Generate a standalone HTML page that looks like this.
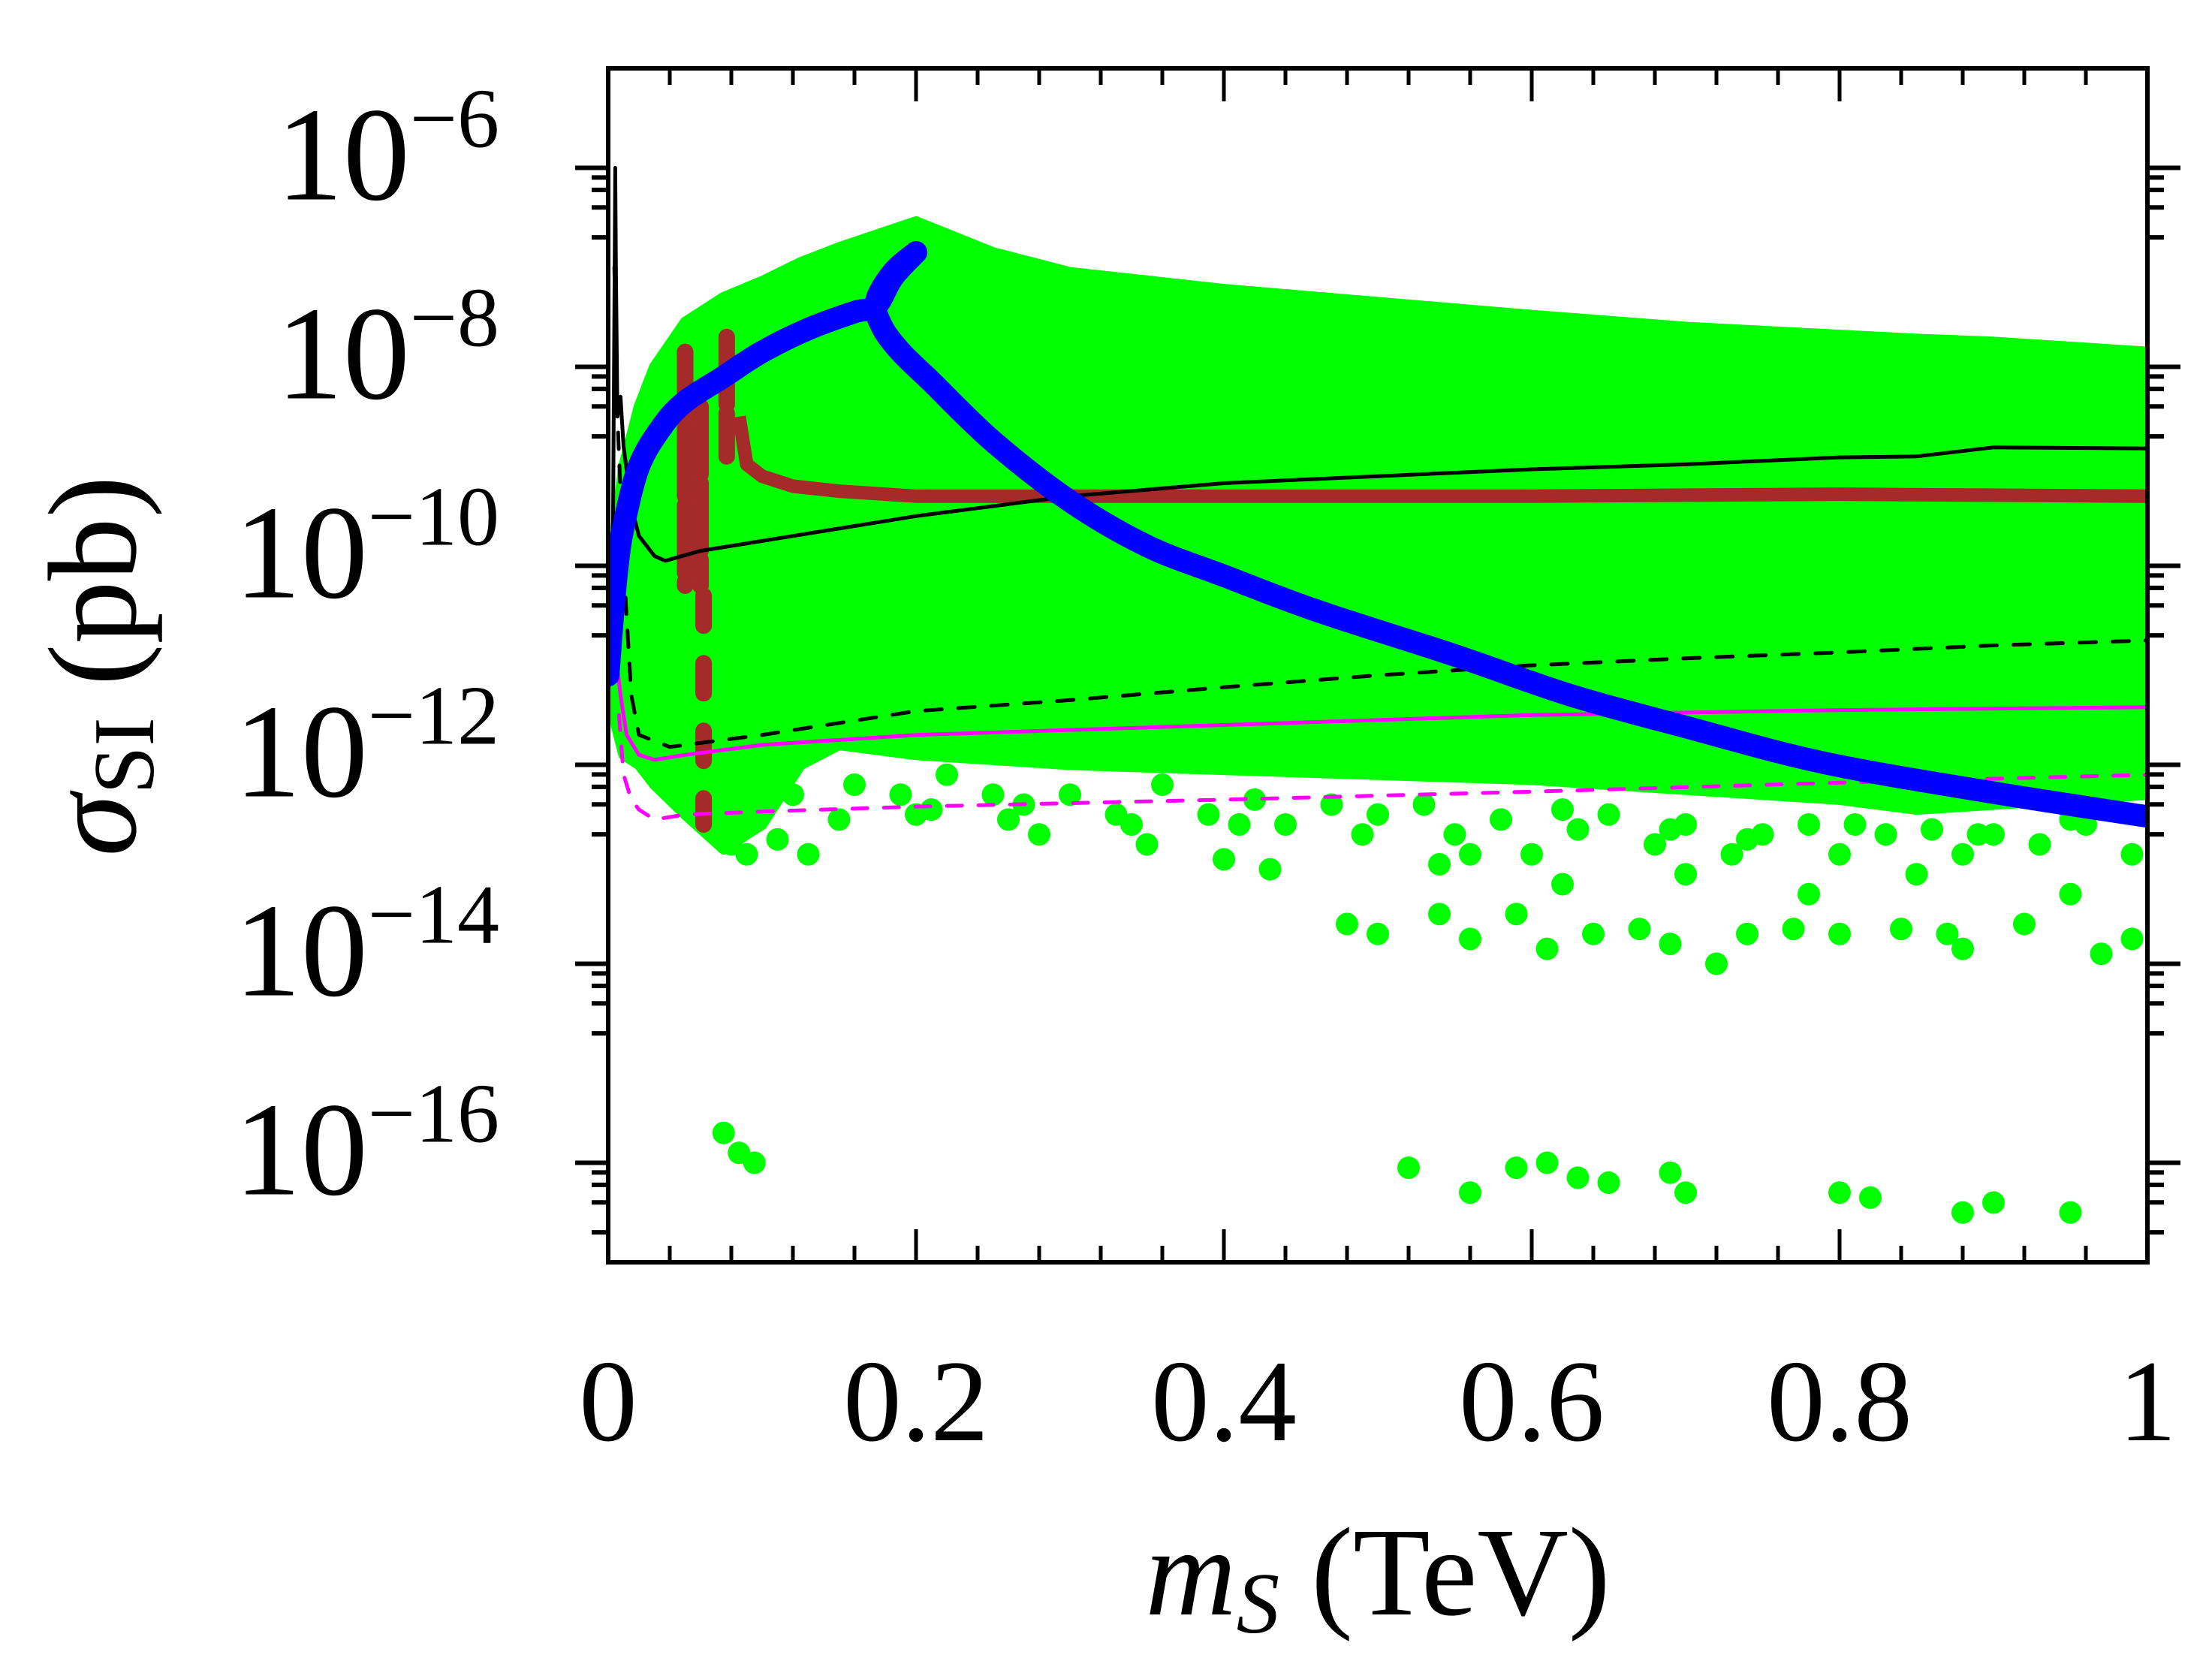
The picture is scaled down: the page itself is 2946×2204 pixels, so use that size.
<!DOCTYPE html>
<html><head><meta charset="utf-8"><style>
html,body{margin:0;padding:0;background:#fff;}
svg{display:block;}
text{font-family:"Liberation Serif",serif;fill:#000;}
</style></head><body>
<svg id="chart" width="2946" height="2204" viewBox="0 0 2946 2204" xmlns="http://www.w3.org/2000/svg">
<g id="plot"></g>
<g id="axes"></g>
<text x="1835" y="2150" font-size="168" text-anchor="middle"><tspan font-style="italic">m</tspan><tspan font-style="italic" font-size="115" dy="24">S</tspan><tspan dy="-24"> (TeV)</tspan></text>
<text transform="translate(180,887) rotate(-90)" font-size="168" text-anchor="middle"><tspan font-style="italic">σ</tspan><tspan font-size="115" dy="24">SI</tspan><tspan dy="-24"> (pb)</tspan></text>
</svg>
<script>
const gridM = [0.0,0.002,0.005,0.01,0.02,0.03,0.05,0.075,0.1,0.125,0.15,0.2,0.25,0.3,0.4,0.5,0.6,0.7,0.8,0.85,0.9,1.0];
const upperL = [-10.9,-10.3,-9.6,-9.0,-8.4,-8.0,-7.55,-7.3,-7.14,-6.95,-6.8,-6.54,-6.85,-7.05,-7.22,-7.35,-7.48,-7.6,-7.68,-7.72,-7.75,-7.85];
const lowerL = [-11.2,-11.3,-11.6,-11.9,-12.0,-12.2,-12.5,-12.85,-12.6,-12.0,-11.8,-11.9,-11.95,-12.0,-12.05,-12.1,-12.15,-12.25,-12.35,-12.45,-12.4,-12.3];
const dotM = [0.16,0.19,0.22,0.25,0.27,0.3,0.33,0.36,0.39,0.42,0.44,0.47,0.5,0.53,0.55,0.58,0.6,0.63,0.65,0.68,0.7,0.73,0.75,0.78,0.8,0.83,0.86,0.88,0.9,0.93,0.96,0.99,0.4,0.43,0.35,0.28,0.2,0.13,0.12,0.09,0.08,
 0.21,0.26,0.34,0.41,0.49,0.56,0.62,0.69,0.74,0.81,0.89,0.95,0.15,0.11,
 0.48,0.5,0.54,0.56,0.59,0.61,0.64,0.67,0.69,0.72,0.74,0.77,0.8,0.84,0.87,0.88,0.92,0.97,0.99,0.54,0.62,0.7,0.78,0.85,0.95,
 0.095,0.085,0.075,0.52,0.56,0.59,0.61,0.63,0.65,0.69,0.7,0.8,0.82,0.88,0.9,0.95];
const dotL = [-12.2,-12.3,-12.1,-12.3,-12.4,-12.3,-12.5,-12.2,-12.5,-12.35,-12.6,-12.4,-12.5,-12.4,-12.7,-12.55,-12.9,-12.65,-12.5,-12.8,-12.6,-12.9,-12.7,-12.6,-12.9,-12.7,-12.65,-12.9,-12.7,-12.8,-12.6,-12.9,-12.95,-13.05,-12.8,-12.7,-12.5,-12.9,-12.3,-12.9,-12.8,
 -12.45,-12.55,-12.6,-12.6,-12.7,-12.9,-12.45,-12.65,-12.75,-12.6,-12.7,-12.55,-12.55,-12.75,
 -13.6,-13.7,-13.5,-13.75,-13.5,-13.85,-13.7,-13.65,-13.8,-14.0,-13.7,-13.65,-13.7,-13.65,-13.7,-13.85,-13.6,-13.9,-13.75,-13.0,-13.2,-13.1,-13.3,-13.1,-13.3,
 -16.0,-15.9,-15.7,-16.05,-16.3,-16.05,-16.0,-16.15,-16.2,-16.1,-16.3,-16.3,-16.35,-16.5,-16.4,-16.5];
const brownBandM = [0.085,0.09,0.1,0.12,0.15,0.2,0.3,0.4,0.6,0.8,1.0];
const brownBandL = [-8.5,-8.98,-9.1,-9.2,-9.25,-9.3,-9.3,-9.3,-9.3,-9.28,-9.3];
const brownBarM = [0.05,0.06,0.077,0.062];
const brownBarTop = [-7.85,-8.4,-7.7,-10.3];
const brownBarBot = [-10.2,-10.2,-8.9,-12.6];
const blueAM = [0.0,0.003,0.006,0.01,0.02,0.035,0.05,0.075,0.1,0.13,0.16,0.174,0.185,0.2];
const blueAL = [-11.1,-10.5,-10.0,-9.6,-9.0,-8.6,-8.35,-8.1,-7.85,-7.62,-7.45,-7.39,-7.1,-6.85];
const blueBM = [0.2,0.185,0.174,0.178,0.19,0.21,0.25,0.3,0.35,0.4,0.46,0.55,0.625,0.7,0.79,0.9,1.0];
const blueBL = [-6.85,-7.05,-7.35,-7.6,-7.85,-8.15,-8.75,-9.35,-9.8,-10.1,-10.45,-10.9,-11.3,-11.62,-11.98,-12.28,-12.52];
const blackSolidM = [0.003,0.004,0.0046,0.005,0.006,0.008,0.01,0.015,0.02,0.03,0.037,0.06,0.1,0.2,0.3,0.4,0.5,0.6,0.7,0.8,0.85,0.9,1.0];
const blackSolidL = [-10.0,-7.5,-6.0,-7.0,-8.5,-8.3,-8.8,-9.4,-9.7,-9.9,-9.95,-9.85,-9.75,-9.5,-9.3,-9.17,-9.1,-9.03,-8.98,-8.91,-8.9,-8.81,-8.82];
const blackDashM = [0.004,0.006,0.01,0.015,0.02,0.04,0.1,0.2,0.3,0.4,0.5,0.6,0.7,0.8,0.9,1.0];
const blackDashL = [-7.0,-8.5,-10.0,-11.3,-11.7,-11.82,-11.7,-11.46,-11.35,-11.22,-11.1,-11.0,-10.93,-10.87,-10.8,-10.75];
const magSolidM = [0.005,0.008,0.012,0.02,0.03,0.05,0.1,0.2,0.4,0.6,0.8,1.0];
const magSolidL = [-10.9,-11.3,-11.7,-11.9,-11.95,-11.9,-11.8,-11.7,-11.6,-11.5,-11.45,-11.42];
const magDashM = [0.007,0.01,0.015,0.02,0.03,0.05,0.1,0.2,0.4,0.6,0.8,1.0];
const magDashL = [-11.5,-12.1,-12.35,-12.45,-12.55,-12.5,-12.47,-12.42,-12.35,-12.27,-12.18,-12.1];
const xTicks = [0,0.2,0.4,0.6,0.8,1];
const xTickLabels = ["0","0.2","0.4","0.6","0.8","1"];
const yTicks = [-6,-8,-10,-12,-14,-16];
const yTickLabels = ["−6","−8","−10","−12","−14","−16"];

const X0=810, X1=2860, Y0=91, Y1=1681, LT=-5, LB=-17;
function sx(m){return X0+(X1-X0)*m;}
function sy(l){return Y0+(LT-l)/(LT-LB)*(Y1-Y0);}
const NS="http://www.w3.org/2000/svg";
const plot=document.getElementById('plot'), axes=document.getElementById('axes');
function mk(tag,attrs,parent){const e=document.createElementNS(NS,tag);for(const k in attrs)e.setAttribute(k,attrs[k]);parent.appendChild(e);return e;}
function pts(M,L){return M.map((m,i)=>sx(m).toFixed(1)+','+sy(L[i]).toFixed(1)).join(' ');}
function smooth(M,L){
  const P=M.map((m,i)=>[sx(m),sy(L[i])]);
  let d='M'+P[0][0].toFixed(1)+','+P[0][1].toFixed(1);
  for(let i=0;i<P.length-1;i++){
    const p0=P[Math.max(0,i-1)],p1=P[i],p2=P[i+1],p3=P[Math.min(P.length-1,i+2)];
    const c1=[p1[0]+(p2[0]-p0[0])/6,p1[1]+(p2[1]-p0[1])/6];
    const c2=[p2[0]-(p3[0]-p1[0])/6,p2[1]-(p3[1]-p1[1])/6];
    d+=' C'+c1.map(v=>v.toFixed(1)).join(',')+' '+c2.map(v=>v.toFixed(1)).join(',')+' '+p2.map(v=>v.toFixed(1)).join(',');
  }
  return d;
}

const defs=mk('defs',{},plot);
const cp=mk('clipPath',{id:'clip'},defs);
mk('rect',{x:X0,y:Y0,width:X1-X0,height:Y1-Y0},cp);
const g=mk('g',{'clip-path':'url(#clip)'},plot);

const revM=gridM.slice().reverse(), revL=lowerL.slice().reverse();
const region=mk('polygon',{points:pts(gridM,upperL)+' '+pts(revM,revL),fill:'#00ff00',stroke:'#00ff00','stroke-width':14,'stroke-linejoin':'round'},g);


dotM.forEach((m,i)=>{
  const c=mk('circle',{cx:sx(m),cy:sy(dotL[i]),r:15,fill:'#00ff00'},g);
  
  
});
const bb=mk('polyline',{points:pts(brownBandM,brownBandL),fill:'none',stroke:'#a52a2a','stroke-width':18,'stroke-linejoin':'round'},g);


brownBarM.forEach((m,i)=>{
  const l=mk('line',{x1:sx(m),y1:sy(brownBarTop[i]),x2:sx(m),y2:sy(brownBarBot[i]),stroke:'#a52a2a','stroke-width':22,'stroke-dasharray':i==3?'40 50':'90 12','stroke-linecap':'round'},g);
  
  
});
function line(M,L,color,w,dash,name,sm){
  const p=sm?mk('path',{d:smooth(M,L),fill:'none',stroke:color,'stroke-width':w,'stroke-linejoin':'round','stroke-linecap':'round'},g)
           :mk('polyline',{points:pts(M,L),fill:'none',stroke:color,'stroke-width':w,'stroke-linejoin':'round','stroke-linecap':'round'},g);
  if(dash)p.setAttribute('stroke-dasharray',dash);
  
  
}
line(blackSolidM,blackSolidL,'#000',5,null,'black-solid-limit');
line(blackDashM,blackDashL,'#000',5,'22 22','black-dashed-limit');
line(magSolidM,magSolidL,'#ff00ff',5,null,'magenta-solid-limit');
line(magDashM,magDashL,'#ff00ff',5,'20 22','magenta-dashed-limit');
line(blueAM,blueAL,'#0000ff',30,null,'blue-curve-lower-branch',true);
line(blueBM,blueBL,'#0000ff',30,null,'blue-curve-upper-branch',true);

const fr=mk('rect',{x:X0,y:Y0,width:X1-X0,height:Y1-Y0,fill:'none',stroke:'#000','stroke-width':6},axes);


for(let k=0;k<=25;k++){
  const m=k*0.04, maj=(k%5===0), len=maj?44:22, x=sx(m);
  const t1=mk('line',{x1:x,y1:Y1,x2:x,y2:Y1-len,stroke:'#000','stroke-width':5},axes);
  
  
  const t2=mk('line',{x1:x,y1:Y0,x2:x,y2:Y0+len,stroke:'#000','stroke-width':5},axes);
  
  
}
xTicks.forEach((m,i)=>{
  const t=mk('text',{x:sx(m),y:1918,'font-size':155,'text-anchor':'middle'},axes);
  t.textContent=xTickLabels[i];
  
  
});
yTicks.forEach((l,i)=>{
  const y=sy(l);
  [[X0,1],[X1,-1]].forEach(([xa,d])=>{
    const t=mk('line',{x1:xa,y1:y,x2:xa-d*44,y2:y,stroke:'#000','stroke-width':6},axes);
    
    
    [0.8,0.6,0.4,0.2].forEach(f=>{
      const yy=sy(l+Math.log10(f));
      const mt=mk('line',{x1:xa,y1:yy,x2:xa-d*22,y2:yy,stroke:'#000','stroke-width':6},axes);
      
      
    });
  });
  const tx=mk('text',{x:665,y:y+42,'font-size':178,'text-anchor':'end'},axes);
  
  
  const a=mk('tspan',{},tx); a.textContent='10';
  const b=mk('tspan',{'font-size':112,dy:-70},tx); b.textContent=yTickLabels[i];
});
</script>
</body></html>
